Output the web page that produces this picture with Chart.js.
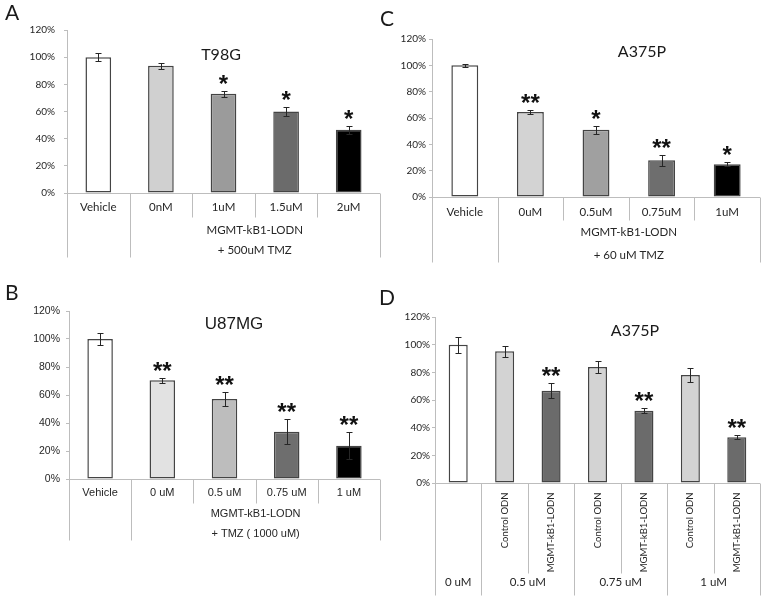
<!DOCTYPE html>
<html>
<head>
<meta charset="utf-8">
<script src="https://cdn.jsdelivr.net/npm/chart.js@4"></script>
<style>
  body { margin:0; background:#fff; }
  #fig { position:relative; width:766px; height:600px; overflow:hidden; }
  #fig canvas { position:absolute; }
  .lt { position:absolute; font:21px Lato, sans-serif; line-height:1; color:#1a1a1a; }
</style>
</head>
<body>
<div id="fig">
  <canvas id="cA"></canvas>
  <canvas id="cC"></canvas>
  <canvas id="cB"></canvas>
  <canvas id="cD"></canvas>
  <div class="lt" style="left:5px;top:1px">A</div>
  <div class="lt" style="left:380px;top:7px">C</div>
  <div class="lt" style="left:5px;top:281px">B</div>
  <div class="lt" style="left:379px;top:286px">D</div>
</div>
<script>
/* ═══ DATA ═════════════════════════════════════════════ */
const Y_TICKS = [0, 20, 40, 60, 80, 100, 120];

// A — T98G
const A_LABELS = ['Vehicle', '0nM', '1uM', '1.5uM', '2uM'];
const A_VALUES = [100, 93.6, 73, 60, 46.6];
const A_ERRORS = [3, 2, 2, 3.2, 3];
const A_STARS  = ['', '', '*', '*', '*'];
const A_GROUP  = ['MGMT-kB1-LODN', '+ 500uM TMZ'];

// B — U87MG
const B_LABELS = ['Vehicle', '0 uM', '0.5 uM', '0.75 uM', '1 uM'];
const B_VALUES = [100, 70.5, 57.1, 33.7, 23.7];
const B_ERRORS = [4, 1.8, 4.9, 9, 9.6];
const B_STARS  = ['', '**', '**', '**', '**'];
const B_GROUP  = ['MGMT-kB1-LODN', '+ TMZ ( 1000 uM)'];

// C — A375P
const C_LABELS = ['Vehicle', '0uM', '0.5uM', '0.75uM', '1uM'];
const C_VALUES = [100, 64.5, 51.1, 28, 24.9];
const C_ERRORS = [1, 1.8, 2.9, 4.2, 1.7];
const C_STARS  = ['', '**', '*', '**', '*'];
const C_GROUP  = ['MGMT-kB1-LODN', '+ 60 uM TMZ'];

// D — A375P, control vs MGMT ODN
const D_LABELS = ['', 'Control ODN', 'MGMT-kB1-LODN', 'Control ODN', 'MGMT-kB1-LODN', 'Control ODN', 'MGMT-kB1-LODN'];
const D_DOSES  = ['0 uM', '0.5 uM', '0.75 uM', '1 uM'];
const D_VALUES = [100, 95.2, 66.7, 83.9, 52.3, 78.1, 33];
const D_ERRORS = [5.9, 3.9, 5.6, 4.2, 1.8, 5.3, 1.4];
const D_STARS  = ['', '', '**', '', '**', '', '**'];

/* ═══ STYLE ════════════════════════════════════════════ */
const A_COLORS = ['#ffffff', '#d0d0d0', '#9b9b9b', '#6b6b6b', '#000000'];
const B_COLORS = ['#ffffff', '#e2e2e2', '#bdbdbd', '#6e6e6e', '#000000'];
const C_COLORS = ['#ffffff', '#d3d3d3', '#a0a0a0', '#6e6e6e', '#000000'];
const D_COLORS = ['#ffffff', '#d3d3d3', '#6b6b6b', '#d3d3d3', '#6b6b6b', '#d3d3d3', '#6b6b6b'];

const EDGE = '#444444', AXIS = '#bdbdbd', TXT = '#262626';
const CAL = 'Lato, "Open Sans", sans-serif';
const ARI = '"Liberation Sans", Arial, sans-serif';
const STAR_FONT = 'bold 24px ' + ARI;

/* ═══ PANELS ═══════════════════════════════════════════ */
const PANELS = [
  { id:'cA', left:0, top:0, w:383, h:290, area:{l:67, t:30, r:380, b:193},
    labels:A_LABELS, values:A_VALUES, errors:A_ERRORS, stars:A_STARS, colors:A_COLORS,
    fam:CAL, tick:10, cat:11.5, tickPad:9,
    title:{text:'T98G', x:221, y:55, size:16},
    table:{row1:14, short:24, long:64, longAt:[0,1,5],
           group:[[A_GROUP[0], 3, 37], [A_GROUP[1], 3, 57]]} },
  { id:'cC', left:383, top:0, w:383, h:290, area:{l:49, t:39, r:377, b:197},
    labels:C_LABELS, values:C_VALUES, errors:C_ERRORS, stars:C_STARS, colors:C_COLORS,
    fam:CAL, tick:10, cat:11.5, tickPad:3,
    title:{text:'A375P', x:259, y:52, size:16},
    table:{row1:15, short:23, long:65, longAt:[0,1,5],
           group:[[C_GROUP[0], 3, 35], [C_GROUP[1], 3, 58]]} },
  { id:'cB', left:0, top:290, w:383, h:310, area:{l:69, t:21, r:380, b:189},
    labels:B_LABELS, values:B_VALUES, errors:B_ERRORS, stars:B_STARS, colors:B_COLORS,
    fam:ARI, tick:10.5, cat:11, tickPad:6,
    title:{text:'U87MG', x:234, y:34, size:17},
    table:{row1:13, short:24, long:61, longAt:[0,1,5],
           group:[[B_GROUP[0], 3, 34], [B_GROUP[1], 3, 54]]} },
  { id:'cD', left:383, top:290, w:383, h:310, area:{l:52, t:27, r:377, b:193},
    labels:D_LABELS, values:D_VALUES, errors:D_ERRORS, stars:D_STARS, colors:D_COLORS,
    fam:CAL, tick:10, cat:11.5, tickPad:2,
    title:{text:'A375P', x:252, y:41, size:16},
    table:{rot:9, rotSize:9.5, short:90, long:112, longAt:[0,1,3,5,7],
           group:D_DOSES.map((t, i) => [t, [0.5, 2, 4, 6][i], 99])} }
];

function hline(ctx, x1, x2, y) { ctx.beginPath(); ctx.moveTo(x1, y); ctx.lineTo(x2, y); ctx.stroke(); }
function vline(ctx, x, y1, y2) { ctx.beginPath(); ctx.moveTo(x, y1); ctx.lineTo(x, y2); ctx.stroke(); }

// error bars, asterisks, category table and title
function decor(p) {
  return {
    id: 'decor',
    afterDatasetsDraw(chart) {
      const { ctx, chartArea: ca, scales: { y } } = chart;
      const meta = chart.getDatasetMeta(0);
      const y0 = Math.round(y.getPixelForValue(0)) + 0.5;
      const n = p.labels.length;
      const bx = k => ca.left + (ca.right - ca.left) * k / n;
      ctx.save();

      // baseline
      ctx.strokeStyle = AXIS; ctx.lineWidth = 1;
      hline(ctx, ca.left, ca.right, y0);

      // error bars
      ctx.strokeStyle = '#262626'; ctx.lineWidth = 1;
      meta.data.forEach((bar, i) => {
        const v = p.values[i], e = p.errors[i];
        const x = Math.round(bar.x) + 0.5;
        const yt = Math.round(y.getPixelForValue(v + e)) + 0.5;
        const yb = Math.round(y.getPixelForValue(v - e)) + 0.5;
        vline(ctx, x, yt, yb);
        hline(ctx, x - 3, x + 3, yt);
        hline(ctx, x - 3, x + 3, yb);
      });

      // significance stars
      ctx.fillStyle = '#111'; ctx.font = STAR_FONT;
      ctx.textAlign = 'center'; ctx.textBaseline = 'alphabetic';
      meta.data.forEach((bar, i) => {
        if (!p.stars[i]) return;
        const yt = y.getPixelForValue(p.values[i] + p.errors[i]);
        ctx.fillText(p.stars[i], bar.x, yt + 1);
      });

      // category table
      const t = p.table;
      ctx.strokeStyle = AXIS; ctx.lineWidth = 1;
      for (let k = 0; k <= n; k++) {
        const x = Math.round(bx(k)) + 0.5;
        vline(ctx, x, y0, y0 + (t.longAt.includes(k) ? t.long : t.short));
      }
      ctx.fillStyle = TXT;
      if (t.rot) {
        ctx.font = t.rotSize + 'px ' + p.fam;
        ctx.textAlign = 'right'; ctx.textBaseline = 'middle';
        p.labels.forEach((lab, i) => {
          if (!lab) return;
          ctx.save();
          ctx.translate(bx(i + 0.5), y0 + t.rot);
          ctx.rotate(-Math.PI / 2);
          ctx.fillText(lab, 0, 0);
          ctx.restore();
        });
      } else {
        ctx.font = p.cat + 'px ' + p.fam;
        ctx.textAlign = 'center'; ctx.textBaseline = 'middle';
        p.labels.forEach((lab, i) => ctx.fillText(lab, bx(i + 0.5), y0 + t.row1));
      }
      ctx.font = p.cat + 'px ' + p.fam;
      ctx.textAlign = 'center'; ctx.textBaseline = 'middle';
      t.group.forEach(([txt, at, dy]) => ctx.fillText(txt, bx(at), y0 + dy));

      // title
      ctx.font = p.title.size + 'px ' + p.fam;
      ctx.fillStyle = '#1a1a1a';
      ctx.fillText(p.title.text, p.title.x, p.title.y);
      ctx.restore();
    }
  };
}

function makePanel(p) {
  const cv = document.getElementById(p.id);
  cv.width = p.w; cv.height = p.h;
  cv.style.left = p.left + 'px'; cv.style.top = p.top + 'px';
  return new Chart(cv, {
    type: 'bar',
    data: { labels: p.labels, datasets: [{
      data: p.values, backgroundColor: p.colors,
      borderColor: EDGE, borderWidth: 1.5, borderSkipped: false,
      categoryPercentage: 1, barPercentage: 0.41
    }]},
    options: {
      responsive: false, animation: false, devicePixelRatio: 1,
      layout: { padding: { left: 0, top: p.area.t, right: p.w - p.area.r, bottom: p.h - p.area.b } },
      plugins: { legend: { display: false }, tooltip: { enabled: false } },
      scales: {
        x: { display: false },
        y: { min: Y_TICKS[0], max: Y_TICKS[Y_TICKS.length - 1],
             afterBuildTicks: ax => { ax.ticks = Y_TICKS.map(v => ({ value: v })); },
             afterFit: ax => { ax.width = p.area.l; },
             ticks: { callback: v => v + '%', color: TXT, padding: p.tickPad,
                      font: { family: p.fam, size: p.tick } },
             grid: { drawOnChartArea: false, tickLength: 3, color: AXIS },
             border: { color: AXIS } }
      }
    },
    plugins: [decor(p)]
  });
}

PANELS.forEach(makePanel);
</script>
</body>
</html>
